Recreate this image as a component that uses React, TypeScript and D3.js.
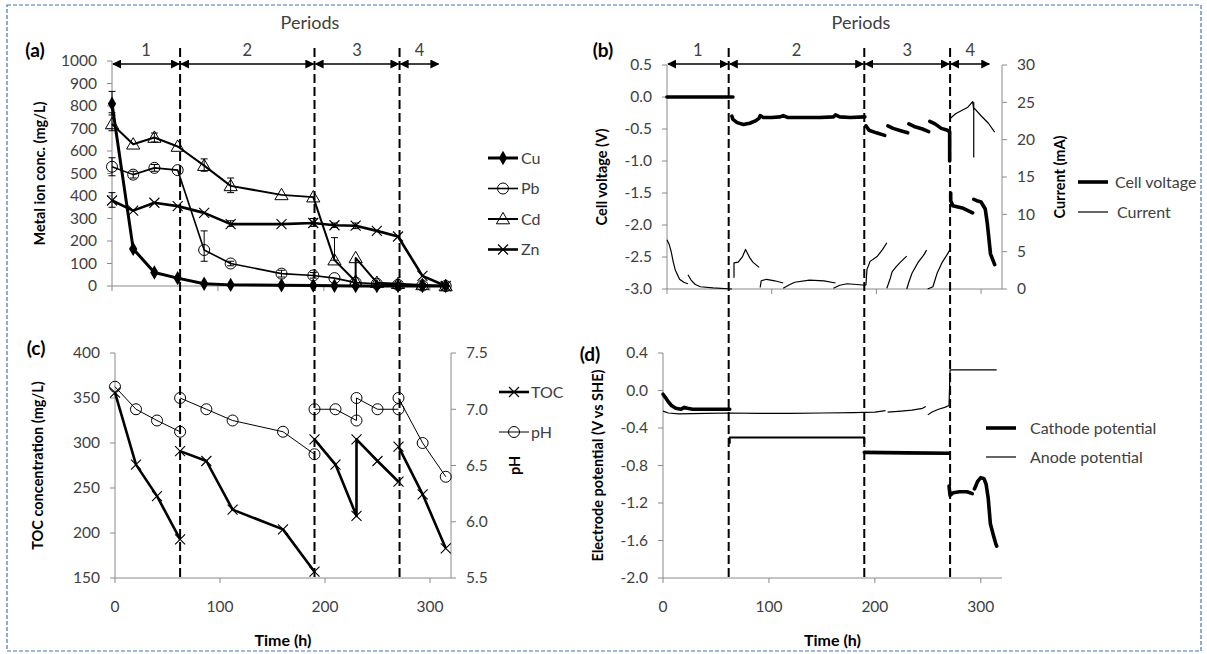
import * as d3 from "d3";

type Pt = [number, number];

// ---------- panel (a): metal ions ----------
const sampleTimes = [0, 20, 40, 62, 87, 112, 160, 190, 210, 230, 250, 270, 293, 315];
const cuConc = [810, 165, 60, 35, 10, 5, 3, 2, 1, 0, 0, 0, 0, 0];
const pbConc = [530, 495, 525, 515, 160, 100, 55, 47, 35, 15, 10, 5, 2, 0];
const cdTimes = [0, 20, 40, 62, 87, 112, 160, 190, 210, 230, 230, 250, 270, 293, 315];
const cdConc = [720, 630, 660, 620, 535, 445, 405, 395, 115, 20, 125, 15, 10, 5, 0];
const znConc = [380, 335, 370, 355, 325, 275, 275, 280, 270, 268, 245, 220, 45, 0];
// error bars: [time, low, high]
const cuErr = [[0, 760, 865]];
const pbErr = [[0, 490, 570], [20, 480, 510], [40, 510, 540], [87, 110, 245], [112, 90, 110], [160, 40, 70], [190, 35, 60]];
const cdErr = [[0, 690, 770], [40, 640, 680], [87, 510, 565], [112, 415, 480], [210, 115, 215]];
const znErr = [[0, 350, 415], [112, 265, 290], [190, 265, 300], [210, 260, 280], [230, 255, 280]];

// ---------- periods ----------
const periodBounds = [0, 62, 190, 271, 309];
const periodNames = ["1", "2", "3", "4"];
const dividerTimes = [62, 190, 271];

// ---------- panel (b): cell voltage / current ----------
const cellVoltageSegs: Pt[][] = [
  [[0, 0], [63, 0]],
  [[62, -0.3], [63, -0.35], [67, -0.4], [73, -0.43], [79, -0.41], [85, -0.37], [88, -0.33], [89, -0.29], [92, -0.32], [100, -0.32], [108, -0.31], [111, -0.29], [115, -0.32], [130, -0.32], [146, -0.32], [159, -0.31], [161, -0.28], [165, -0.31], [175, -0.32], [189, -0.31]],
  [[190, -0.45], [193, -0.52], [200, -0.56], [208, -0.6]],
  [[211, -0.45], [216, -0.49], [224, -0.53], [230, -0.56]],
  [[231, -0.42], [236, -0.46], [244, -0.5], [250, -0.54]],
  [[251, -0.38], [256, -0.42], [262, -0.49], [268, -0.52], [270, -0.55], [270, -1.0]],
  [[271, -1.5], [271, -1.62], [273, -1.7], [283, -1.74], [292, -1.81]],
  [[293, -1.6], [296, -1.62], [300, -1.64], [304, -1.75], [306, -1.98], [309, -2.45], [313, -2.62]],
];
const currentSegs: Pt[][] = [
  [[0, 6.6], [2, 6.0], [4, 5.0], [6, 3.6], [8, 2.5], [12, 1.3], [16, 0.9], [20, 0.7]],
  [[20, 1.9], [23, 1.2], [27, 0.6], [32, 0.3], [44, 0.15], [62, 0]],
  [[64, 1.5], [64, 3.5], [68, 3.6], [72, 4.3], [75, 5.3], [79, 4.2], [82, 3.6], [88, 2.9]],
  [[89, 0.2], [90, 1.1], [95, 1.3], [103, 1.1], [111, 0.8]],
  [[111, 0.1], [116, 0.5], [122, 0.9], [136, 1.2], [150, 1.1], [161, 0.8]],
  [[159, 0.1], [165, 0.5], [172, 0.7], [190, 0.5]],
  [[190, 0.5], [191, 2.6], [194, 3.7], [201, 4.4], [206, 5.3], [210, 6.2]],
  [[210, 0.1], [213, 1.3], [215, 2.3], [219, 3.0], [223, 3.6], [229, 4.4]],
  [[229, 0], [231, 0.9], [234, 2.1], [240, 3.6], [245, 4.5], [248, 5.2]],
  [[249, 0], [254, 0.3], [256, 1.2], [258, 2.1], [263, 3.6], [268, 4.7], [270, 5.2]],
  [[271, 22.9], [276, 23.5], [287, 24.3], [292, 25.1], [293, 24.0]],
  [[293, 25.0], [293, 17.6]],
  [[293, 24.3], [300, 23.2], [307, 22.2], [313, 21.0]],
];

// ---------- panel (c): TOC / pH ----------
const tocSegs: Pt[][] = [
  [[0, 356], [20, 276], [40, 241], [62, 193]],
  [[62, 291], [87, 280], [112, 226], [160, 204], [190, 157]],
  [[190, 304], [210, 276], [230, 219], [230, 304], [250, 280], [270, 257]],
  [[270, 296], [293, 243], [315, 183]],
];
const phSegs: Pt[][] = [
  [[0, 7.2], [20, 7.0], [40, 6.9], [62, 6.8]],
  [[62, 7.1], [87, 7.0], [112, 6.9], [160, 6.8], [190, 6.6]],
  [[190, 7.0], [210, 7.0], [230, 6.9], [230, 7.1], [250, 7.0], [270, 7.0]],
  [[270, 7.1], [293, 6.7], [315, 6.4]],
];

// ---------- panel (d): electrode potentials ----------
const cathodeSegs: Pt[][] = [
  [[0, -0.04], [2, -0.07], [5, -0.12], [8, -0.16], [12, -0.19], [17, -0.2], [20, -0.18], [23, -0.19], [28, -0.2], [63, -0.2]],
  [[63, -0.56], [63, -0.5], [190, -0.5], [190, -0.56]],
  [[190, -0.66], [230, -0.665], [270, -0.67]],
  [[270, -1.02], [271, -1.12], [274, -1.09], [280, -1.08], [287, -1.08], [292, -1.1]],
  [[294, -1.05], [297, -0.97], [300, -0.93], [303, -0.94], [305, -1.0], [307, -1.15], [309, -1.42], [312, -1.55], [314, -1.63], [315, -1.66]],
];
const anodeSegs: Pt[][] = [
  [[0, -0.22], [5, -0.24], [15, -0.25], [40, -0.245], [63, -0.24], [90, -0.245], [120, -0.245], [150, -0.24], [180, -0.235], [200, -0.23], [210, -0.215]],
  [[212, -0.23], [225, -0.22], [235, -0.21], [245, -0.19], [248, -0.17]],
  [[250, -0.26], [254, -0.23], [260, -0.2], [266, -0.18], [270, -0.16], [271, 0.22], [315, 0.22]],
];

// ---------- tick values ----------
const timeTicks = [0, 100, 200, 300];
const metalTicks = d3.range(0, 1001, 100);
const voltTicks = d3.range(-3, 0.51, 0.5);
const currentTicks = d3.range(0, 31, 5);
const tocTicks = d3.range(150, 401, 50);
const phTicks = d3.range(5.5, 7.51, 0.5);
const potTicks = [-2.0, -1.6, -1.2, -0.8, -0.4, 0.0, 0.4];

const FONT = "Lato, 'Open Sans', sans-serif";
const AXIS = "#8a8a8a";
const TXT = "#404040";

const xA = d3.scaleLinear().domain([0, 320]).range([112, 451]);
const yA = d3.scaleLinear().domain([0, 1000]).range([286, 61]);
const xC = d3.scaleLinear().domain([0, 320]).range([115, 451]);
const yC = d3.scaleLinear().domain([150, 400]).range([578, 353]);
const yPH = d3.scaleLinear().domain([5.5, 7.5]).range([578, 353]);
const xB = d3.scaleLinear().domain([0, 320]).range([667, 1002]);
const yB = d3.scaleLinear().domain([-3, 0.5]).range([289, 65]);
const yI = d3.scaleLinear().domain([0, 30]).range([289, 65]);
const xD = d3.scaleLinear().domain([0, 320]).range([663, 1002]);
const yD = d3.scaleLinear().domain([-2, 0.4]).range([578, 353]);

type Scale = d3.ScaleLinear<number, number>;

const pathOf = (xs: Scale, ys: Scale, pts: Pt[]) =>
  d3.line<Pt>().x((d) => xs(d[0])).y((d) => ys(d[1]))(pts) || "";

const Marker = ({ kind, x, y }: { kind: string; x: number; y: number }) => {
  const t = `translate(${x},${y})`;
  if (kind === "diamond")
    return <path transform={t} d={d3.symbol(d3.symbolDiamond, 60)() || ""} fill="#000" />;
  if (kind === "circle")
    return <circle cx={x} cy={y} r={5.5} fill="none" stroke="#000" strokeWidth={1} />;
  if (kind === "triangle")
    return <path transform={`translate(${x},${y + 1})`} d={d3.symbol(d3.symbolTriangle, 75)() || ""} fill="none" stroke="#000" strokeWidth={1} />;
  return <path transform={t} d="M-5,-5L5,5M-5,5L5,-5" stroke="#000" strokeWidth={1.1} />;
};

const LeftAxis = ({ x, ys, ticks, fmt }: { x: number; ys: Scale; ticks: number[]; fmt: (v: number) => string }) => {
  const [y0, y1] = ys.range();
  return (
    <g>
      <line x1={x} x2={x} y1={y0} y2={y1} stroke={AXIS} />
      {ticks.map((v) => (
        <g key={v}>
          <line x1={x - 5} x2={x} y1={ys(v)} y2={ys(v)} stroke={AXIS} />
          <text x={x - 15} y={ys(v)} dy="0.35em" textAnchor="end" fontSize={15.5} fill={TXT}>{fmt(v)}</text>
        </g>
      ))}
    </g>
  );
};

const RightAxis = ({ x, ys, ticks, fmt }: { x: number; ys: Scale; ticks: number[]; fmt: (v: number) => string }) => {
  const [y0, y1] = ys.range();
  return (
    <g>
      <line x1={x} x2={x} y1={y0} y2={y1} stroke={AXIS} />
      {ticks.map((v) => (
        <g key={v}>
          <line x1={x} x2={x + 5} y1={ys(v)} y2={ys(v)} stroke={AXIS} />
          <text x={x + 15} y={ys(v)} dy="0.35em" textAnchor="start" fontSize={15.5} fill={TXT}>{fmt(v)}</text>
        </g>
      ))}
    </g>
  );
};

const BottomAxis = ({ xs, y, labels }: { xs: Scale; y: number; labels: boolean }) => {
  const [x0, x1] = xs.range();
  return (
    <g>
      <line x1={x0} x2={x1} y1={y} y2={y} stroke={AXIS} />
      {timeTicks.map((v) => (
        <g key={v}>
          <line x1={xs(v)} x2={xs(v)} y1={y} y2={y + 5} stroke={AXIS} />
          {labels && (
            <text x={xs(v)} y={y + 29} dy="0.35em" textAnchor="middle" fontSize={15.5} fill={TXT}>{v}</text>
          )}
        </g>
      ))}
    </g>
  );
};

const Periods = ({ xs, cx }: { xs: (t: number) => number; cx: number }) => (
  <g>
    <text x={cx} y={23} dy="0.35em" textAnchor="middle" fontSize={18} fill={TXT}>Periods</text>
    {periodNames.map((n, i) => {
      const a = xs(periodBounds[i]);
      const b = xs(periodBounds[i + 1]);
      return (
        <g key={n}>
          <line x1={a + 1} x2={b - 1} y1={64} y2={64} stroke="#000" strokeWidth={1.3}
            markerStart="url(#arrow)" markerEnd="url(#arrow)" />
          <text x={(a + b) / 2} y={50} dy="0.35em" textAnchor="middle" fontSize={16.5} fill={TXT}>{n}</text>
        </g>
      );
    })}
  </g>
);

const fmt0 = (v: number) => `${v}`;
const fmt1 = (v: number) => v.toFixed(1);

export default function App() {
  const leftX = (t: number) => (t === 0 ? xA(0) : xC(t));
  const rightX = (t: number) => (t === 0 ? xB(0) : xD(t));

  const metals = [
    { name: "Cu", kind: "diamond", times: sampleTimes, vals: cuConc, err: cuErr, w: 3 },
    { name: "Pb", kind: "circle", times: sampleTimes, vals: pbConc, err: pbErr, w: 1.6 },
    { name: "Cd", kind: "triangle", times: cdTimes, vals: cdConc, err: cdErr, w: 2 },
    { name: "Zn", kind: "cross", times: sampleTimes, vals: znConc, err: znErr, w: 2.6 },
  ];

  return (
    <svg width={1207} height={654} viewBox="0 0 1207 654"
      style={{ position: "absolute", left: 0, top: 0, background: "#fff", fontFamily: FONT }}>
      <defs>
        <marker id="arrow" viewBox="0 0 10 10" refX={9} refY={5} markerWidth={9} markerHeight={9}
          markerUnits="userSpaceOnUse" orient="auto-start-reverse">
          <path d="M0,0L10,5L0,10Z" fill="#000" />
        </marker>
      </defs>

      {/* outer frame */}
      <rect x={7} y={5} width={1194} height={646} fill="none" stroke="#4472C4" strokeWidth={1.2} strokeDasharray="4,2" />

      {/* ---------- (a) ---------- */}
      <text x={35} y={50} dy="0.35em" textAnchor="middle" fontSize={19} fontWeight="bold">(a)</text>
      <Periods xs={leftX} cx={310} />
      <LeftAxis x={xA(0)} ys={yA} ticks={metalTicks} fmt={fmt0} />
      <BottomAxis xs={xA} y={yA(0)} labels={false} />
      <text transform={`translate(40,${(yA(0) + yA(1000)) / 2}) rotate(-90)`} dy="0.35em" textAnchor="middle" fontSize={14.5} fontWeight="bold">Metal ion conc. (mg/L)</text>
      {metals.map((m) => {
        const pts: Pt[] = m.times.map((t, i) => [t, m.vals[i]]);
        return (
          <g key={m.name}>
            {m.err.map(([t, lo, hi], i) => (
              <g key={i} stroke="#000" strokeWidth={1}>
                <line x1={xA(t)} x2={xA(t)} y1={yA(lo)} y2={yA(hi)} />
                <line x1={xA(t) - 3.5} x2={xA(t) + 3.5} y1={yA(lo)} y2={yA(lo)} />
                <line x1={xA(t) - 3.5} x2={xA(t) + 3.5} y1={yA(hi)} y2={yA(hi)} />
              </g>
            ))}
            <path d={pathOf(xA, yA, pts)} fill="none" stroke="#000" strokeWidth={m.w} strokeLinejoin="round" />
            {pts.map((p, i) => <Marker key={i} kind={m.kind} x={xA(p[0])} y={yA(p[1])} />)}
          </g>
        );
      })}
      {metals.map((m, i) => {
        const y = 158 + i * 30.5;
        return (
          <g key={m.name}>
            <line x1={488} x2={518} y1={y} y2={y} stroke="#000" strokeWidth={m.w} />
            <Marker kind={m.kind} x={503} y={y} />
            <text x={521} y={y} dy="0.35em" fontSize={16} fill={TXT}>{m.name}</text>
          </g>
        );
      })}

      {/* ---------- (c) ---------- */}
      <text x={36} y={348} dy="0.35em" textAnchor="middle" fontSize={19} fontWeight="bold">(c)</text>
      <LeftAxis x={xC(0)} ys={yC} ticks={tocTicks} fmt={fmt0} />
      <RightAxis x={xC(320)} ys={yPH} ticks={phTicks} fmt={fmt1} />
      <BottomAxis xs={xC} y={yC(150)} labels={true} />
      <text transform={`translate(38,${(yC(150) + yC(400)) / 2}) rotate(-90)`} dy="0.35em" textAnchor="middle" fontSize={14.5} fontWeight="bold">TOC concentration (mg/L)</text>
      <text transform={`translate(515,${(yC(150) + yC(400)) / 2}) rotate(-90)`} dy="0.35em" textAnchor="middle" fontSize={14.5} fontWeight="bold">pH</text>
      <text x={(xC(0) + xC(320)) / 2} y={640} dy="0.35em" textAnchor="middle" fontSize={16} fontWeight="bold">Time (h)</text>
      {phSegs.map((seg, i) => (
        <g key={i}>
          <path d={pathOf(xC, yPH, seg)} fill="none" stroke="#000" strokeWidth={1} />
          {seg.map((p, j) => <Marker key={j} kind="circle" x={xC(p[0])} y={yPH(p[1])} />)}
        </g>
      ))}
      {tocSegs.map((seg, i) => (
        <g key={i}>
          <path d={pathOf(xC, yC, seg)} fill="none" stroke="#000" strokeWidth={2.6} strokeLinejoin="round" />
          {seg.map((p, j) => <Marker key={j} kind="cross" x={xC(p[0])} y={yC(p[1])} />)}
        </g>
      ))}
      <line x1={499} x2={529} y1={392} y2={392} stroke="#000" strokeWidth={2.6} />
      <Marker kind="cross" x={514} y={392} />
      <text x={531} y={392} dy="0.35em" fontSize={16} fill={TXT}>TOC</text>
      <line x1={499} x2={529} y1={432} y2={432} stroke="#000" strokeWidth={1} />
      <Marker kind="circle" x={514} y={432} />
      <text x={531} y={432} dy="0.35em" fontSize={16} fill={TXT}>pH</text>

      {/* ---------- (b) ---------- */}
      <text x={603} y={50} dy="0.35em" textAnchor="middle" fontSize={19} fontWeight="bold">(b)</text>
      <Periods xs={rightX} cx={861} />
      <LeftAxis x={xB(0)} ys={yB} ticks={voltTicks} fmt={fmt1} />
      <RightAxis x={xB(320)} ys={yI} ticks={currentTicks} fmt={fmt0} />
      <BottomAxis xs={xB} y={yB(-3)} labels={false} />
      <text transform={`translate(602,${(yB(-3) + yB(0.5)) / 2}) rotate(-90)`} dy="0.35em" textAnchor="middle" fontSize={14.5} fontWeight="bold">Cell voltage (V)</text>
      <text transform={`translate(1060,${(yB(-3) + yB(0.5)) / 2}) rotate(-90)`} dy="0.35em" textAnchor="middle" fontSize={14.5} fontWeight="bold">Current (mA)</text>
      {currentSegs.map((seg, i) => (
        <path key={i} d={pathOf(xB, yI, seg)} fill="none" stroke="#000" strokeWidth={1.2} strokeLinejoin="round" />
      ))}
      {cellVoltageSegs.map((seg, i) => (
        <path key={i} d={pathOf(xB, yB, seg)} fill="none" stroke="#000" strokeWidth={3.6} strokeLinejoin="round" strokeLinecap="round" />
      ))}
      <line x1={1078} x2={1108} y1={182} y2={182} stroke="#000" strokeWidth={3.6} />
      <text x={1115} y={182} dy="0.35em" fontSize={16} fill={TXT}>Cell voltage</text>
      <line x1={1078} x2={1108} y1={212} y2={212} stroke="#000" strokeWidth={1.2} />
      <text x={1117} y={212} dy="0.35em" fontSize={16} fill={TXT}>Current</text>

      {/* ---------- (d) ---------- */}
      <text x={590} y={354} dy="0.35em" textAnchor="middle" fontSize={19} fontWeight="bold">(d)</text>
      <LeftAxis x={xD(0)} ys={yD} ticks={potTicks} fmt={fmt1} />
      <BottomAxis xs={xD} y={yD(-2)} labels={true} />
      <text transform={`translate(598,${(yD(-2) + yD(0.4)) / 2}) rotate(-90)`} dy="0.35em" textAnchor="middle" fontSize={14.5} fontWeight="bold">Electrode potential (V vs SHE)</text>
      <text x={(xD(0) + xD(320)) / 2} y={640} dy="0.35em" textAnchor="middle" fontSize={16} fontWeight="bold">Time (h)</text>
      {anodeSegs.map((seg, i) => (
        <path key={i} d={pathOf(xD, yD, seg)} fill="none" stroke="#000" strokeWidth={1.2} strokeLinejoin="round" />
      ))}
      {cathodeSegs.map((seg, i) => (
        <path key={i} d={pathOf(xD, yD, seg)} fill="none" stroke="#000" strokeWidth={i === 1 ? 2 : 3.6} strokeLinejoin="round" strokeLinecap="round" />
      ))}
      <line x1={986} x2={1016} y1={428} y2={428} stroke="#000" strokeWidth={3.6} />
      <text x={1030} y={428} dy="0.35em" fontSize={16} fill={TXT}>Cathode potential</text>
      <line x1={986} x2={1016} y1={457} y2={457} stroke="#000" strokeWidth={1.2} />
      <text x={1030} y={457} dy="0.35em" fontSize={16} fill={TXT}>Anode potential</text>

      {/* ---------- period dividers ---------- */}
      {dividerTimes.map((t) => (
        <g key={t} stroke="#000" strokeWidth={2} strokeDasharray="9,4">
          <line x1={xC(t)} x2={xC(t)} y1={48} y2={578} />
          <line x1={xD(t)} x2={xD(t)} y1={48} y2={578} />
        </g>
      ))}
    </svg>
  );
}
